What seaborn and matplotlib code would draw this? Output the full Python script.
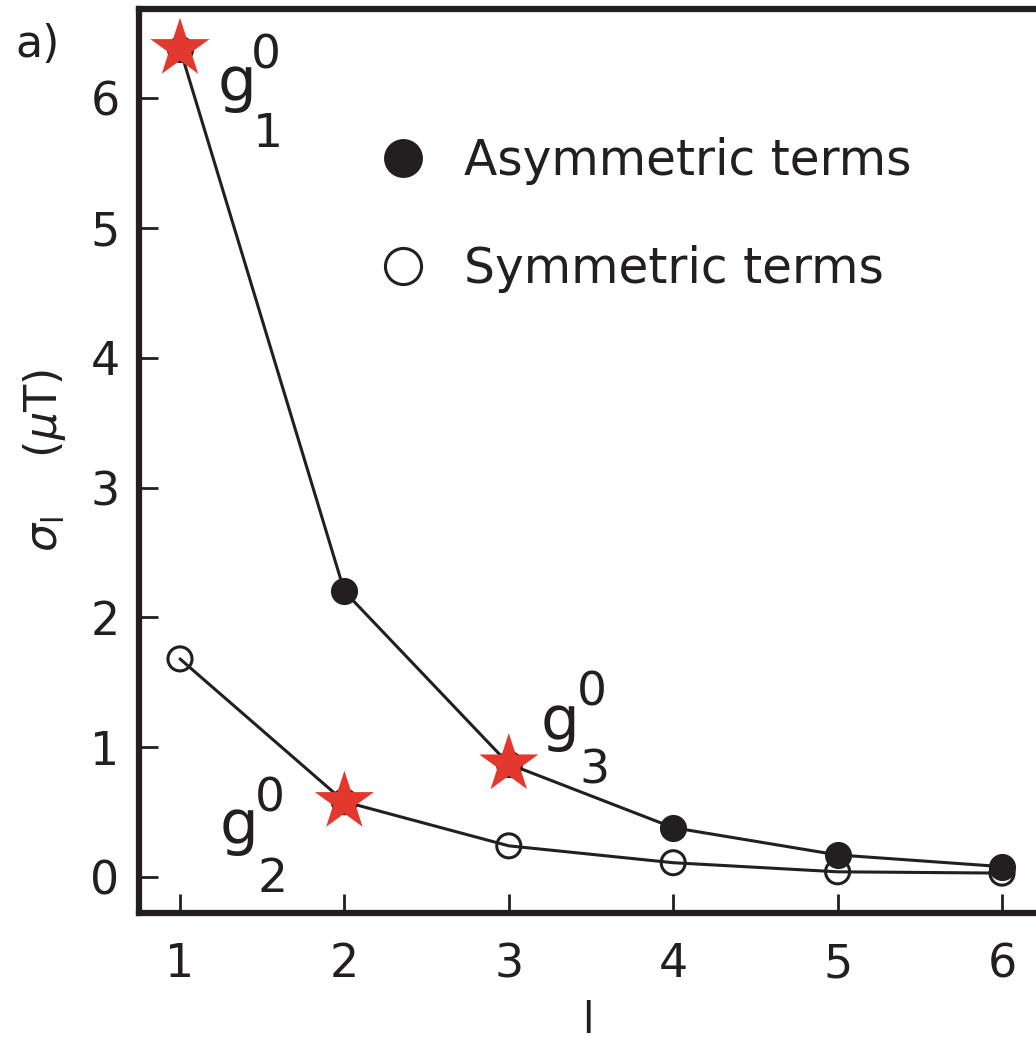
import numpy as np
import pandas as pd
import matplotlib
matplotlib.use("Agg")
import matplotlib.pyplot as plt
from matplotlib.lines import Line2D
import seaborn as sns

# ------------------------
# Data
# ------------------------
degree = [1, 2, 3, 4, 5, 6]
asym_sigma = [6.38, 2.20, 0.87, 0.38, 0.17, 0.08]
sym_sigma = [1.68, 0.58, 0.24, 0.11, 0.04, 0.03]
term_names = ["Asymmetric terms", "Symmetric terms"]

# zonal coefficients highlighted with stars: (series, degree, label)
star_series = ["Asymmetric terms", "Symmetric terms", "Asymmetric terms"]
star_degree = [1, 2, 3]
star_sub = ["1", "2", "3"]

df = pd.concat([
    pd.DataFrame({"l": degree, "sigma": asym_sigma, "terms": term_names[0]}),
    pd.DataFrame({"l": degree, "sigma": sym_sigma, "terms": term_names[1]}),
], ignore_index=True)

stars = pd.concat([
    df[(df["terms"] == s) & (df["l"] == d)] for s, d in zip(star_series, star_degree)
], ignore_index=True)
stars["sub"] = star_sub

# ------------------------
# Style
# ------------------------
INK = "#231f20"
RED = "#e2382d"
sns.set_theme(style="white")
plt.rcParams["font.family"] = ["DejaVu Sans"]
plt.rcParams["mathtext.fontset"] = "dejavusans"
plt.rcParams["text.color"] = INK
plt.rcParams["axes.labelcolor"] = INK

fig = plt.figure(figsize=(10.36, 10.48), dpi=100)
ax = fig.add_axes([139 / 1036, 1 - 913 / 1048, (1036 - 139) / 1036, (913 - 9) / 1048])

# ------------------------
# Plot
# ------------------------
sns.lineplot(data=df, x="l", y="sigma", units="terms", estimator=None,
             color=INK, lw=2.2, legend=False, ax=ax, zorder=2)

sym = df[df["terms"] == term_names[1]]
asym = df[df["terms"] == term_names[0]]
sns.scatterplot(data=sym, x="l", y="sigma", marker="o", s=300,
                facecolors="none", edgecolor=INK, linewidth=2.2,
                legend=False, ax=ax, zorder=3)
sns.scatterplot(data=asym, x="l", y="sigma", marker="o", s=300,
                color=INK, edgecolor=INK, linewidth=2.2,
                legend=False, ax=ax, zorder=4)
sns.scatterplot(data=stars, x="l", y="sigma", marker="*", s=2000,
                color=RED, edgecolor="none", linewidth=0,
                legend=False, ax=ax, zorder=5, clip_on=False)

# g_l^0 labels next to the stars (offsets in points)
offsets = {
    "1": ((41, -37), (62, -14), (63, -71)),
    "2": ((-76, -30), (-54, -7), (-52, -65)),
    "3": ((37, 18), (60, 42), (62, -14)),
}
for _, row in stars.iterrows():
    g_off, sup_off, sub_off = offsets[row["sub"]]
    xy = (row["l"], row["sigma"])
    ax.annotate("g", xy, xytext=g_off, textcoords="offset points",
                fontsize=44, ha="center", va="baseline", zorder=6)
    ax.annotate("0", xy, xytext=sup_off, textcoords="offset points",
                fontsize=34, ha="center", va="baseline", zorder=6)
    ax.annotate(row["sub"], xy, xytext=sub_off, textcoords="offset points",
                fontsize=34, ha="center", va="baseline", zorder=6)

# ------------------------
# Axes
# ------------------------
ax.set_xlim(0.7507, 6.2067)
ax.set_ylim(-0.2773, 6.686)
ax.set_xticks(degree)
ax.set_yticks(range(0, 7))
ax.tick_params(direction="in", length=14, width=2, colors=INK, labelsize=33,
               bottom=True, left=True, top=False, right=False)
ax.tick_params(axis="x", pad=21)
ax.tick_params(axis="y", pad=14)
for side in ["left", "bottom", "top"]:
    ax.spines[side].set_linewidth(4.5)
    ax.spines[side].set_color(INK)
ax.spines["right"].set_visible(False)

ax.set_xlabel("l", fontsize=30, labelpad=9)
ax.set_ylabel(r"$\sigma_{\mathrm{l}}$    ($\mu$T)", fontsize=32, labelpad=16)

handles = [
    Line2D([], [], marker="o", ls="none", ms=26, mfc=INK, mec=INK, mew=2),
    Line2D([], [], marker="o", ls="none", ms=26, mfc="none", mec=INK, mew=2.2),
]
ax.legend(handles, term_names, loc="center left", bbox_to_anchor=(0.273, 0.772),
          frameon=False, fontsize=35, handlelength=0.8, handletextpad=0.85,
          labelspacing=1.25, borderpad=0, borderaxespad=0)

fig.text(15 / 1036, 1 - 57 / 1048, "a)", fontsize=32, va="baseline", ha="left")

fig.savefig("out.png", dpi=100)
